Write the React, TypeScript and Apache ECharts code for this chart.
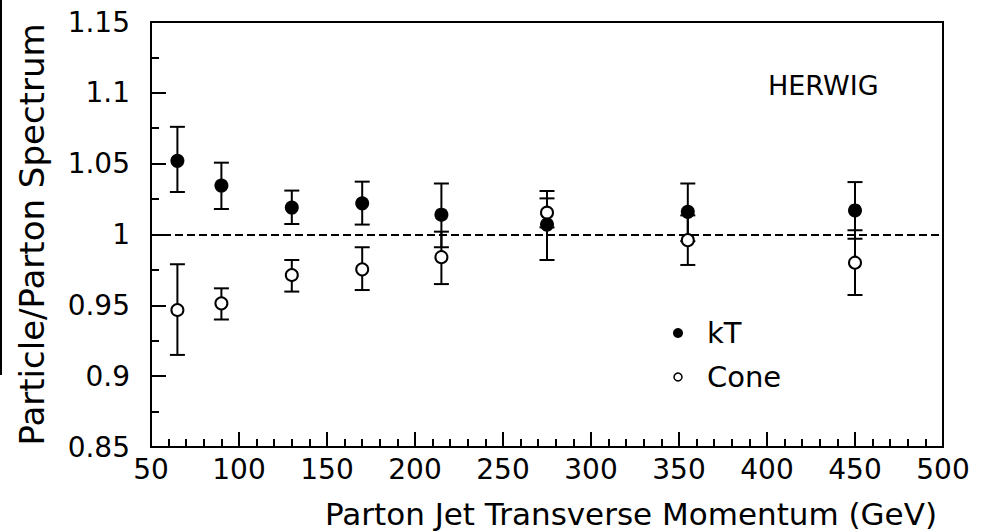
import React, { useEffect, useRef } from "react";
import * as echarts from "echarts";

const ptValues = [65, 90, 130, 170, 215, 275, 355, 450];

const ktValues = [1.052, 1.0345, 1.019, 1.022, 1.014, 1.007, 1.016, 1.017];
const ktLow = [1.03, 1.018, 1.0074, 1.007, 0.991, 0.982, 0.9953, 0.997];
const ktHigh = [1.076, 1.0507, 1.031, 1.0373, 1.036, 1.0307, 1.036, 1.037];

const coneValues = [0.9467, 0.9514, 0.9714, 0.9754, 0.984, 1.0154, 0.996, 0.9801];
const coneLow = [0.915, 0.94, 0.9597, 0.9608, 0.965, 1.005, 0.9785, 0.9573];
const coneHigh = [0.979, 0.962, 0.982, 0.991, 1.002, 1.0255, 1.0135, 1.003];

const referenceLevel = 1;
const xTitle = "Parton Jet Transverse Momentum (GeV)";
const yTitle = "Particle/Parton Spectrum";
const generatorLabel = "HERWIG";
const seriesNames = ["kT", "Cone"];

const FONT = "DejaVu Sans";

function errorBarRender(params: any, api: any) {
  const x = api.value(0);
  const lo = api.coord([x, api.value(1)]);
  const hi = api.coord([x, api.value(2)]);
  const half = 7.5;
  const style = { stroke: "#000", lineWidth: 2 };
  return {
    type: "group",
    children: [
      { type: "line", shape: { x1: lo[0], y1: lo[1], x2: hi[0], y2: hi[1] }, style },
      { type: "line", shape: { x1: lo[0] - half, y1: lo[1], x2: lo[0] + half, y2: lo[1] }, style },
      { type: "line", shape: { x1: hi[0] - half, y1: hi[1], x2: hi[0] + half, y2: hi[1] }, style },
    ],
  };
}

export default function App() {
  const ref = useRef<HTMLDivElement>(null);

  useEffect(() => {
    if (!ref.current) return;
    const chart = echarts.init(ref.current, null, { renderer: "svg" });

    const ktPoints = ptValues.map((x, i) => [x, ktValues[i]]);
    const conePoints = ptValues.map((x, i) => [x, coneValues[i]]);
    const ktErr = ptValues.map((x, i) => [x, ktLow[i], ktHigh[i]]);
    const coneErr = ptValues.map((x, i) => [x, coneLow[i], coneHigh[i]]);

    chart.setOption({
      animation: false,
      backgroundColor: "#fff",
      grid: {
        left: 151,
        top: 22,
        right: 41,
        bottom: 85,
        show: true,
        borderColor: "#000",
        borderWidth: 2,
        backgroundColor: "transparent",
      },
      xAxis: {
        type: "value",
        min: 50,
        max: 500,
        interval: 50,
        axisLine: { show: true, lineStyle: { color: "#000", width: 2 } },
        axisTick: { show: true, inside: true, length: 15, lineStyle: { color: "#000", width: 2 } },
        minorTick: { show: true, splitNumber: 5, length: 8, lineStyle: { color: "#000", width: 2 } },
        splitLine: { show: false },
        axisLabel: { color: "#000", fontSize: 28, fontFamily: FONT, margin: 8 },
      },
      yAxis: {
        type: "value",
        min: 0.85,
        max: 1.15,
        interval: 0.05,
        name: yTitle,
        nameLocation: "middle",
        nameGap: 102,
        nameTextStyle: { color: "#000", fontSize: 34, fontFamily: FONT },
        axisLine: { show: true, lineStyle: { color: "#000", width: 2 } },
        axisTick: { show: true, inside: true, length: 15, lineStyle: { color: "#000", width: 2 } },
        minorTick: { show: true, splitNumber: 2, length: 8, lineStyle: { color: "#000", width: 2 } },
        splitLine: { show: false },
        axisLabel: {
          color: "#000",
          fontSize: 28,
          fontFamily: FONT,
          margin: 21,
          formatter: (v: number) => String(Math.round(v * 100) / 100),
        },
      },
      series: [
        {
          name: "kT error",
          type: "custom",
          renderItem: errorBarRender,
          data: ktErr,
          encode: { x: 0, y: [1, 2] },
          z: 2,
          silent: true,
        },
        {
          name: "Cone error",
          type: "custom",
          renderItem: errorBarRender,
          data: coneErr,
          encode: { x: 0, y: [1, 2] },
          z: 2,
          silent: true,
        },
        {
          name: seriesNames[1],
          type: "scatter",
          data: conePoints,
          symbol: "circle",
          symbolSize: 12,
          itemStyle: { color: "#fff", borderColor: "#000", borderWidth: 2, opacity: 1 },
          z: 4,
          markLine: {
            silent: true,
            symbol: "none",
            label: { show: false },
            lineStyle: { color: "#000", type: [8, 4], width: 2 },
            data: [{ yAxis: referenceLevel }],
            z: 1,
          },
        },
        {
          name: seriesNames[0],
          type: "scatter",
          data: ktPoints,
          symbol: "circle",
          symbolSize: 14,
          itemStyle: { color: "#000", opacity: 1 },
          z: 5,
        },
      ],
      graphic: [
        {
          type: "rect",
          shape: { x: 0, y: 0, width: 2, height: 375 },
          style: { fill: "#000" },
        },
        {
          type: "text",
          x: 768,
          y: 85,
          style: {
            text: generatorLabel,
            font: `27px "${FONT}"`,
            fill: "#000",
            verticalAlign: "middle",
            align: "left",
          },
        },
        {
          type: "circle",
          shape: { cx: 678, cy: 333, r: 5 },
          style: { fill: "#000" },
        },
        {
          type: "text",
          x: 707,
          y: 333,
          style: {
            text: seriesNames[0],
            font: `29px "${FONT}"`,
            fill: "#000",
            verticalAlign: "middle",
            align: "left",
          },
        },
        {
          type: "circle",
          shape: { cx: 678, cy: 377, r: 4 },
          style: { fill: "#fff", stroke: "#000", lineWidth: 1.5 },
        },
        {
          type: "text",
          x: 707,
          y: 377,
          style: {
            text: seriesNames[1],
            font: `29px "${FONT}"`,
            fill: "#000",
            verticalAlign: "middle",
            align: "left",
          },
        },
        {
          type: "text",
          x: 937,
          y: 514,
          style: {
            text: xTitle,
            font: `31px "${FONT}"`,
            fill: "#000",
            verticalAlign: "middle",
            align: "right",
          },
        },
      ],
    });

    return () => chart.dispose();
  }, []);

  return (
    <div
      ref={ref}
      style={{ position: "fixed", left: 0, top: 0, width: 984, height: 532, background: "#fff" }}
    />
  );
}
